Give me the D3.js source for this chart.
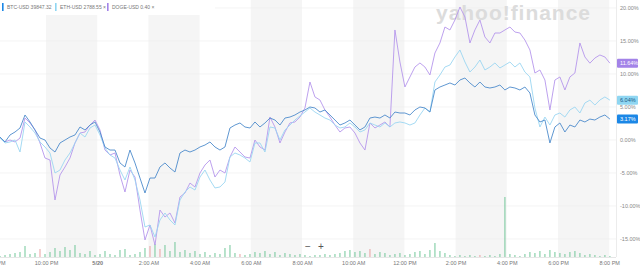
<!DOCTYPE html>
<html>
<head>
<meta charset="utf-8">
<script src="https://cdn.jsdelivr.net/npm/d3@7"></script>
<style>
  body { margin: 0; background: #fff; }
  svg { display: block; font-family: "Liberation Sans", Arial, sans-serif; }
</style>
</head>
<body>
<div id="chart"></div>
<script>
var svgWidth = 640;
var svgHeight = 269;
var plotRight = 616;
var plotBottom = 257;

// sampled every 703 s starting 20:12:12 on 5/19, % change
var startTime = new Date(2021, 4, 19, 20, 12, 12);
var stepSec = 703;

var btc = [0.45,-0.30,0.76,1.21,1.82,3.79,2.73,1.52,0.30,0,
  -1.21,-1.82,-0.45,0,0.45,0.76,1.97,1.52,2.27,2.73,
  1.21,-1.06,-1.52,-1.52,-3.48,-4.09,-1.52,-3.48,-5.76,-8.03,
  -5.76,-5.76,-4.09,-3.48,-4.24,-4.85,-1.97,-1.52,-1.82,-1.52,
  -1.06,-0.76,-0.30,-1.06,-1.52,-1.06,1.82,2.27,2.58,1.97,
  1.82,2.73,1.97,2.58,3.33,3.03,2.27,3.33,3.48,3.79,
  4.24,4.55,5.00,4.85,4.24,4.55,3.79,3.03,2.27,2.58,
  3.03,2.27,1.52,1.97,3.33,3.48,3.33,3.79,3.33,4.24,
  4.09,4.09,3.79,4.55,5.00,4.85,4.24,7.58,8.03,8.33,
  8.64,8.33,9.09,9.39,8.64,8.03,8.79,8.03,7.88,8.03,
  8.33,7.58,8.03,7.88,7.58,8.03,7.12,3.79,2.73,3.03,
  -0.45,1.97,2.58,1.21,2.27,1.97,3.03,2.73,3.17,3.03,
  3.48,3.79,3.17];

var eth = [0.30,-0.45,-0.30,0,-1.82,2.73,1.97,1.06,-0.30,-1.06,
  -1.97,-5.0,-4.55,-3.03,-1.97,-0.45,1.06,0.45,1.82,2.27,
  0.76,-1.21,-2.27,-2.73,-4.55,-6.06,-4.09,-6.06,-9.09,-13.18,
  -12.88,-14.70,-12.12,-11.06,-12.12,-12.88,-9.09,-7.88,-7.12,-7.58,
  -5.61,-4.55,-6.06,-7.27,-7.12,-6.36,-2.58,-1.97,-2.27,-2.73,
  -3.33,-0.45,-0.45,-1.82,1.97,1.82,0,1.52,2.27,3.03,
  3.64,4.24,4.85,4.24,3.79,3.33,3.03,2.27,1.82,1.97,
  2.58,1.97,1.21,1.52,2.58,2.27,1.97,2.58,1.97,2.58,
  2.73,2.58,2.27,2.58,3.79,4.85,4.24,8.79,9.85,11.06,
  11.36,12.58,13.64,11.82,10.30,11.06,12.12,10.61,11.06,11.67,
  10.91,11.36,11.82,11.06,11.67,10.30,9.55,4.85,1.97,3.48,
  2.27,3.79,4.09,3.48,4.55,5.0,4.09,5.61,6.04,5.30,
  6.06,6.52,6.04];

var doge = [0.30,-0.30,0,-0.30,0.30,3.33,2.58,1.52,-0.45,-2.73,
  -3.03,-9.09,-5.30,-4.09,-2.73,-0.45,1.06,1.21,2.27,3.03,
  1.52,-1.52,-2.27,-1.97,-5.30,-7.88,-4.55,-5.61,-10.61,-15.15,
  -12.88,-15.91,-10.61,-11.67,-11.06,-12.58,-8.64,-8.03,-6.52,-7.12,
  -5.0,-3.79,-3.03,-5.61,-4.55,-5.0,-2.58,-1.06,-1.82,-2.58,
  -2.73,0,-1.06,-1.52,3.48,1.97,-0.45,1.21,2.58,2.73,
  3.48,4.85,8.79,6.52,6.06,4.55,3.48,2.27,1.21,1.82,
  1.97,1.06,-0.45,-1.52,2.58,1.82,2.27,2.73,1.97,16.67,
  11.82,8.03,9.55,11.06,11.67,11.06,9.85,13.18,14.70,17.12,
  16.67,18.18,20.15,18.64,14.70,16.67,18.18,15.61,14.70,16.21,
  16.21,16.67,17.12,16.36,16.21,15.15,13.64,10.15,10.61,9.09,
  4.55,9.09,9.55,7.58,9.55,10.15,14.70,12.58,11.64,12.42,
  12.88,12.58,11.64];

var volume = [1,2,3,4,5,11,3,4,8,3,
  5,9,6,10,7,12,4,3,6,2,
  3,6,3,2,7,8,2,3,5,9,
  11,13,8,12,6,15,5,7,4,6,
  3,5,2,4,3,9,12,4,3,2,
  3,5,4,6,3,5,2,4,3,2,
  3,2,1,2,2,3,2,3,4,6,
  7,5,6,4,8,3,5,4,2,3,
  4,2,3,5,6,3,7,14,6,4,
  2,1,2,1,2,1,2,1,2,1,
  3,60,3,2,1,3,5,4,6,3,
  7,5,4,3,5,6,4,2,3,2,
  1,2,1];
var volDown = [8, 30, 32, 48, 74, 96];

var yTicks = [-15, -10, -5, 0, 5, 10, 15, 20];
var seriesNames = ["BTC-USD", "ETH-USD", "DOGE-USD"];
var seriesPrices = ["39847.32", "2788.55", "0.40"];
var seriesColors = ["#4d8bcc", "#9bd6f2", "#b596ec"];
var tagColors = ["#1b87e6", "#8fd6f2", "#a383e8"];
var tagText = ["#ffffff", "#1d5a85", "#ffffff"];
var bandStarts = [new Date(2021, 4, 19, 22), new Date(2021, 4, 20, 2), new Date(2021, 4, 20, 6),
  new Date(2021, 4, 20, 10), new Date(2021, 4, 20, 14), new Date(2021, 4, 20, 18)];

var times = btc.map(function(d, i) {
    return new Date(startTime.getTime() + i * stepSec * 1000);
});

var svg = d3.select("#chart")
    .append("svg")
    .attr("width", svgWidth)
    .attr("height", svgHeight);

var xScale = d3.scaleTime()
    .domain([new Date(2021, 4, 19, 20), new Date(2021, 4, 20, 20)])
    .range([-5.2, 609.2]);

var yScale = d3.scaleLinear()
    .domain([-15, 20])
    .range([239, 8]);

var volScale = d3.scaleLinear()
    .domain([0, 60])
    .range([plotBottom, plotBottom - 60]);

svg.append("clipPath").attr("id", "plotClip")
    .append("rect").attr("x", 0).attr("y", 0).attr("width", plotRight).attr("height", plotBottom + 1);

var plot = svg.append("g").attr("clip-path", "url(#plotClip)");

// shaded 2h bands
plot.selectAll("rect.band")
    .data(bandStarts)
    .enter()
    .append("rect")
    .attr("class", "band")
    .attr("x", d => xScale(d))
    .attr("y", 0)
    .attr("width", d => xScale(d3.timeHour.offset(d, 2)) - xScale(d))
    .attr("height", plotBottom)
    .attr("fill", "#f5f5f5");

// legend strip is white
svg.append("rect").attr("x", 0).attr("y", 0).attr("width", 215).attr("height", 15).attr("fill", "#fff");

// grid lines
plot.selectAll("line.grid")
    .data(yTicks)
    .enter()
    .append("line")
    .attr("x1", 0).attr("x2", plotRight)
    .attr("y1", d => yScale(d)).attr("y2", d => yScale(d))
    .attr("stroke", "#ececec")
    .attr("stroke-width", 0.6);

// volume bars
plot.selectAll("rect.vol")
    .data(volume)
    .enter()
    .append("rect")
    .attr("x", (d, i) => xScale(times[i]) - 0.6)
    .attr("y", d => volScale(d))
    .attr("width", 1.2)
    .attr("height", d => plotBottom - volScale(d))
    .attr("fill", (d, i) => volDown.indexOf(i) >= 0 ? "#e79c9c" : "#6cc495")
    .attr("opacity", 0.8);

// watermark (under the lines)
plot.append("text")
    .attr("x", 436)
    .attr("y", 20)
    .attr("font-size", 21)
    .attr("font-weight", "bold")
    .attr("fill", "#dcdcdc")
    .attr("textLength", 154)
    .text("yahoo!finance");

// lines
var line = d3.line()
    .x((d, i) => xScale(times[i]))
    .y(d => yScale(d));

[doge, eth, btc].forEach(function(s, k) {
    var idx = 2 - k;
    plot.append("path")
        .datum(s)
        .attr("fill", "none")
        .attr("stroke", seriesColors[idx])
        .attr("stroke-width", 0.9)
        .attr("stroke-linejoin", "round")
        .attr("d", line);
});

// baseline + right border
svg.append("line").attr("x1", 0).attr("x2", plotRight).attr("y1", plotBottom + 0.5).attr("y2", plotBottom + 0.5)
    .attr("stroke", "#e6e6e6");
svg.append("line").attr("x1", plotRight + 0.5).attr("x2", plotRight + 0.5).attr("y1", 0).attr("y2", plotBottom)
    .attr("stroke", "#ececec");

// x axis
var xAxis = d3.axisBottom(xScale)
    .tickValues(d3.timeHour.every(2).range(new Date(2021, 4, 19, 20), new Date(2021, 4, 20, 21)))
    .tickSize(0)
    .tickPadding(4)
    .tickFormat(d => d.getHours() === 0 ? "5/20" : d3.timeFormat("%-I:%M %p")(d));

var gx = svg.append("g")
    .attr("transform", `translate(0, ${plotBottom})`)
    .call(xAxis);
gx.select(".domain").remove();
gx.selectAll("text")
    .attr("font-size", 5.5)
    .attr("font-family", "'Liberation Sans', Arial, sans-serif")
    .attr("fill", "#777")
    .attr("font-weight", d => d.getHours() === 0 ? "bold" : "normal");

// y axis on the right
var yAxis = d3.axisRight(yScale)
    .tickValues(yTicks)
    .tickSize(0)
    .tickPadding(4)
    .tickFormat(d => d.toFixed(2) + "%");

var gy = svg.append("g")
    .attr("transform", `translate(${plotRight}, 0)`)
    .call(yAxis);
gy.select(".domain").remove();
gy.selectAll("text")
    .attr("font-size", 5.5)
    .attr("font-family", "'Liberation Sans', Arial, sans-serif")
    .attr("fill", "#888");

// last value tags
[btc, eth, doge].forEach(function(s, i) {
    var v = s[s.length - 1];
    var g = svg.append("g").attr("transform", `translate(${plotRight + 1}, ${yScale(v)})`);
    g.append("rect")
        .attr("x", 0).attr("y", -4.5)
        .attr("width", 21).attr("height", 9)
        .attr("rx", 1)
        .attr("fill", tagColors[i]);
    g.append("text")
        .attr("x", 3).attr("y", 2)
        .attr("font-size", 5.5)
        .attr("fill", tagText[i])
        .text(v.toFixed(2) + "%");
});

// legend
var lx = [2, 55, 107];
seriesNames.forEach(function(name, i) {
    svg.append("rect")
        .attr("x", lx[i]).attr("y", 3)
        .attr("width", 1.6).attr("height", 8)
        .attr("fill", tagColors[i]);
    svg.append("text")
        .attr("x", lx[i] + 5).attr("y", 9)
        .attr("font-size", 5)
        .attr("fill", "#777")
        .text(name + " " + seriesPrices[i] + (i > 0 ? "  ×" : ""));
});

// zoom controls
svg.append("text").attr("x", 305).attr("y", 250).attr("font-size", 10).attr("fill", "#555").text("−");
svg.append("text").attr("x", 318).attr("y", 250).attr("font-size", 10).attr("fill", "#555").text("+");
</script>
</body>
</html>
